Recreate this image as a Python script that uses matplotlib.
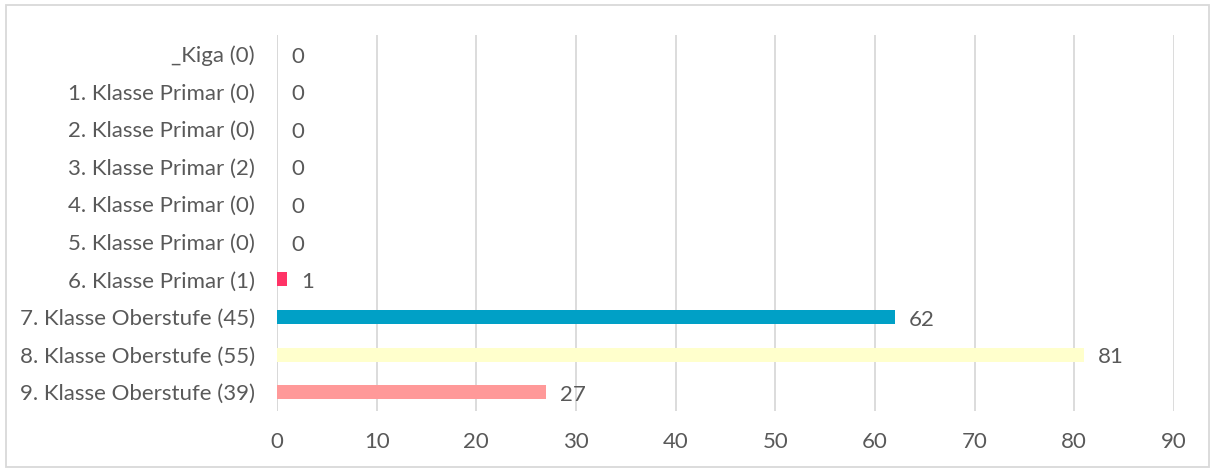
import matplotlib
matplotlib.use("Agg")
from matplotlib import pyplot as plt
from matplotlib.patches import Rectangle

# Kategorien von oben nach unten
kategorien = ["_Kiga (0)", "1. Klasse Primar (0)", "2. Klasse Primar (0)", "3. Klasse Primar (2)",
              "4. Klasse Primar (0)", "5. Klasse Primar (0)", "6. Klasse Primar (1)",
              "7. Klasse Oberstufe (45)", "8. Klasse Oberstufe (55)", "9. Klasse Oberstufe (39)"]
werte = [0, 0, 0, 0, 0, 0, 1, 62, 81, 27]
farben = ["#FF3366", "#FF3366", "#FF3366", "#FF3366", "#FF3366", "#FF3366", "#FF3366",
          "#00A0C6", "#FFFFCC", "#FF9999"]
xticks = [0, 10, 20, 30, 40, 50, 60, 70, 80, 90]

plt.rcParams['font.family'] = ['Lato', 'DejaVu Sans']
textfarbe = "#595959"

fig = plt.figure(figsize=(12.14, 4.70), dpi=100)
ax = fig.add_axes([0.2282, 0.1255, 0.967 - 0.2282, 0.8])

pos = list(range(len(kategorien)))
ax.barh(pos, werte, height=0.37, color=farben, zorder=3)

for p, w in zip(pos, werte):
    ax.annotate(str(w), (w, p), xytext=(10, -2), textcoords="offset points",
                va="center", ha="left", fontsize=16, color=textfarbe)

ax.set_ylim(len(kategorien) - 0.5, -0.5)
ax.set_xlim(0, 90)
ax.set_xticks(xticks)
ax.set_yticks(pos)
ax.set_yticklabels(kategorien)
ax.tick_params(axis="both", length=0, labelsize=16, labelcolor=textfarbe)
ax.tick_params(axis="y", pad=16)
ax.tick_params(axis="x", pad=15)
ax.grid(axis="x", color="#D9D9D9", linewidth=1.3, zorder=0)
for s in ax.spines.values():
    s.set_visible(False)
ax.axvline(0, color="#D9D9D9", linewidth=1.3, zorder=1)

fig.patches.append(Rectangle((6 / 1214, 3 / 470), 1203 / 1214, 462 / 470, transform=fig.transFigure,
                             fill=False, edgecolor="#D9D9D9", linewidth=1.3))

fig.savefig("out.png", dpi=100)
